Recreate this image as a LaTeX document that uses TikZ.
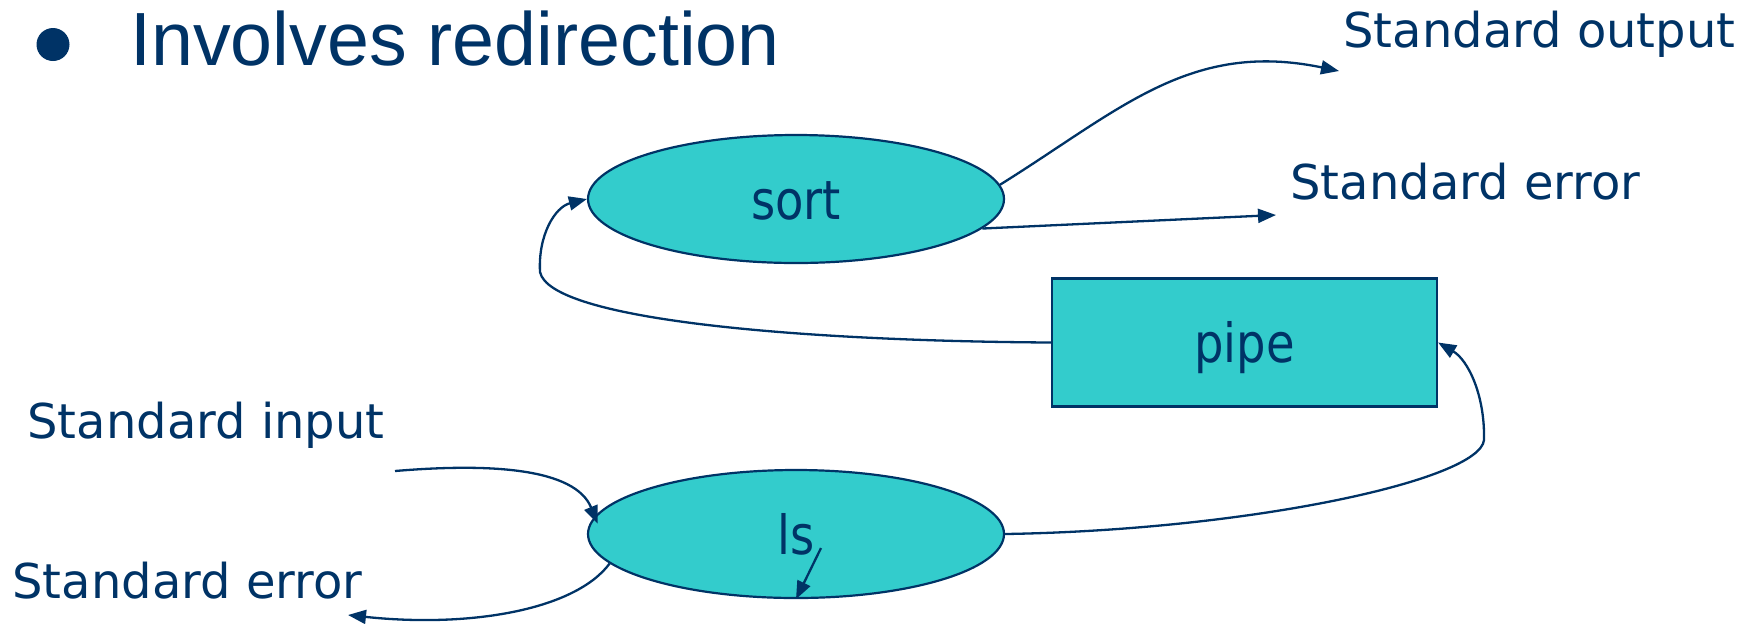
\documentclass[tikz,border=0pt]{standalone}
\usepackage{fontspec}
\setmainfont{Liberation Sans}
\newfontfamily\streamfont{DejaVu Sans}
\newfontfamily\shapefont{DejaVu Sans}[FakeStretch=0.86]
\usetikzlibrary{shapes.geometric,arrows.meta}
\definecolor{navy}{HTML}{003366}
\definecolor{procfill}{HTML}{33CCCC}

\begin{document}
\begin{tikzpicture}[x=0.5pt,y=-0.5pt,
  proc/.style={ellipse, draw=navy, fill=procfill, line width=1.1pt,
    minimum width=208pt, minimum height=64pt, inner sep=0pt,
    font=\shapefont\fontsize{27}{27}\selectfont, text=navy,
    text height=20pt, text depth=0pt},
  buffer/.style={rectangle, draw=navy, fill=procfill, line width=1.1pt,
    minimum width=192.5pt, minimum height=64pt, inner sep=0pt,
    font=\shapefont\fontsize{27}{27}\selectfont, text=navy,
    text height=20pt, text depth=0pt},
  stream/.style={anchor=base west, inner sep=0pt, text=navy,
    font=\streamfont\fontsize{24}{24}\selectfont},
  flow/.style={draw=navy, line width=1.15pt,
    -{Triangle[length=9pt,width=7pt]}}]
\useasboundingbox (0,0) rectangle (1760,623);

% heading with bullet
\node[circle, fill=navy, minimum size=16.5pt, inner sep=0pt] (bullet) at (53,44.5) {};
\node[anchor=base west, inner sep=0pt, text=navy,
      font=\fontsize{37.7}{40}\selectfont] (title) at (130,65) {Involves redirection};

% processes and the pipe between them
\node[proc] (sort) at (796,199) {sort};
\node[proc] (ls) at (796,534) {ls};
\node[buffer] (pipe) at (1244.5,342.5) {pipe};

% stream labels
\node[stream] (sout) at (1343,47) {Standard output};
\node[stream] (serrtop) at (1290,199) {Standard error};
\node[stream] (sin) at (27,438) {Standard input};
\node[stream] (serrbot) at (12,598) {Standard error};

% free ends of the stream arrows
\coordinate (outtip) at (1339,71);
\coordinate (errtip) at (1276,215);
\coordinate (instart) at (395,471);
\coordinate (errbottip) at (348,615);
\coordinate (lsinner) at (821,548);

% sort's outputs
\draw[flow] (sort.4) .. controls (1120,110) and (1190,40) .. (outtip);
\draw[flow] (sort.-9) -- (errtip);

% ls input and outputs
\draw[flow, shorten >=-4pt] (instart) .. controls (490,463) and (575,468) .. (ls.175);
\draw[flow] (ls.-171) .. controls (575,610) and (470,628) .. (errbottip);
\draw[flow] (lsinner) -- (ls.south);

% through the pipe
\draw[flow] (ls.east) .. controls (1250,530) and (1480,480) .. (1484,440)
  .. controls (1485,395) and (1468,360) .. (pipe.east);
\draw[flow] (pipe.west) .. controls (800,341) and (550,320) .. (540,272)
  .. controls (538,235) and (555,207) .. (sort.west);
\end{tikzpicture}
\end{document}
